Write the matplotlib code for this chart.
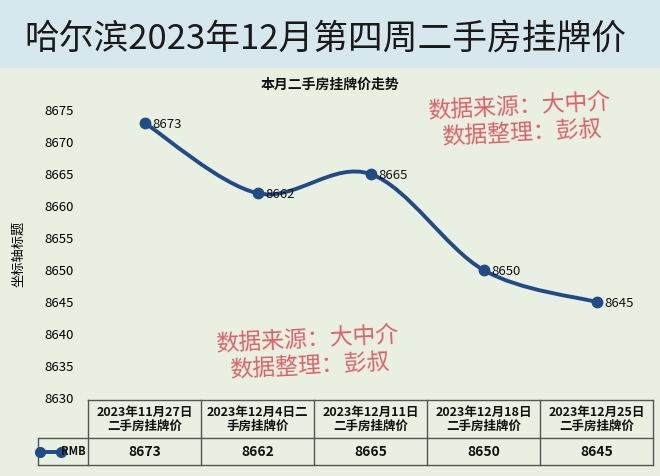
import numpy as np
import matplotlib.pyplot as plt
from matplotlib.path import Path
from matplotlib.patches import PathPatch, Rectangle

plt.rcParams['font.family'] = ['Noto Sans CJK SC', 'DejaVu Sans']

title = '哈尔滨2023年12月第四周二手房挂牌价'
chart_title = '本月二手房挂牌价走势'
y_label = '坐标轴标题'
series_name = 'RMB'
col_labels = ['2023年11月27日\n二手房挂牌价',
              '2023年12月4日二\n手房挂牌价',
              '2023年12月11日\n二手房挂牌价',
              '2023年12月18日\n二手房挂牌价',
              '2023年12月25日\n二手房挂牌价']
prices = [8673, 8662, 8665, 8650, 8645]
y_ticks = [8630, 8635, 8640, 8645, 8650, 8655, 8660, 8665, 8670, 8675]
notes = ['数据来源：大中介', '数据整理：彭叔']

line_color = '#1f4b87'
red = '#d9646a'

fig = plt.figure()
fig.set_size_inches(6.6, 4.76)
fig.patch.set_facecolor('#e9f0e1')
fig.patches.append(Rectangle((0, 1 - 68 / 476), 1, 68 / 476, transform=fig.transFigure,
                             facecolor='#d7e7ee', edgecolor='none', zorder=0))
fig.text(325 / 660, 1 - 39 / 476, title, ha='center', va='center', fontsize=25, color='#1a1a1a')

ax = fig.add_axes([88 / 660, 78 / 476, 565 / 660, 288 / 476])
ax.set_facecolor('none')
for s in ax.spines.values():
    s.set_visible(False)
x = np.arange(len(prices))
ax.set_xlim(-0.5, len(prices) - 0.5)
ax.set_ylim(y_ticks[0], y_ticks[-1])
ax.set_yticks(y_ticks)
ax.set_yticklabels([str(t) for t in y_ticks], fontsize=9.5)
ax.tick_params(axis='y', length=0, pad=10)
ax.set_xticks([])
ax.set_ylabel(y_label, fontsize=9.5, labelpad=14)

# smooth curve (Catmull-Rom style bezier through the points)
pts = np.column_stack([x, prices]).astype(float)
verts = [pts[0]]
codes = [Path.MOVETO]
n = len(pts)
for i in range(n - 1):
    p0 = pts[max(i - 1, 0)]
    p1 = pts[i]
    p2 = pts[i + 1]
    p3 = pts[min(i + 2, n - 1)]
    verts += [p1 + (p2 - p0) / 6.0, p2 - (p3 - p1) / 6.0, p2]
    codes += [Path.CURVE4] * 3
ax.add_patch(PathPatch(Path(verts, codes), fill=False, edgecolor=line_color, linewidth=2.8,
                       capstyle='round', zorder=3))
ax.plot(x, prices, linestyle='none', marker='o', markersize=7.5, color=line_color, zorder=4)
for xi, p in zip(x, prices):
    ax.annotate(str(p), (xi, p), xytext=(6, -1), textcoords='offset points',
                ha='left', va='center', fontsize=9.5, color='#111111', zorder=5)

fig.text(330 / 660, 1 - 85 / 476, chart_title, ha='center', va='center', fontsize=10,
         fontweight='bold', color='#111111')

# red watermark notes
for (cx, cy) in [(519, 107), (307, 340)]:
    fig.text(cx / 660, 1 - cy / 476, notes[0], ha='center', va='center', fontsize=16.5,
             color=red, rotation=3)
    fig.text((cx + 3) / 660, 1 - (cy + 26) / 476, notes[1], ha='center', va='center',
             fontsize=16.5, color=red, rotation=3)

# data table under the axis
tr = ax.get_xaxis_transform()
top, mid, bot = -2 / 288, -40 / 288, -67 / 288
lc = '#555555'
lab_left = -0.5 - 50 / 113
ax.plot([-0.5, len(prices) - 0.5], [top, top], color=lc, lw=1, transform=tr, clip_on=False)
ax.plot([lab_left, len(prices) - 0.5], [mid, mid], color=lc, lw=1, transform=tr, clip_on=False)
ax.plot([lab_left, len(prices) - 0.5], [bot, bot], color=lc, lw=1, transform=tr, clip_on=False)
for k in range(len(prices) + 1):
    ax.plot([k - 0.5, k - 0.5], [top, bot], color=lc, lw=1, transform=tr, clip_on=False)
ax.plot([lab_left, lab_left], [mid, bot], color=lc, lw=1, transform=tr, clip_on=False)
for xi, lab, p in zip(x, col_labels, prices):
    ax.text(xi, (top + mid) / 2, lab, transform=tr, ha='center', va='center', fontsize=9,
            fontweight='bold', linespacing=1.1, color='#111111')
    ax.text(xi, (mid + bot) / 2, str(p), transform=tr, ha='center', va='center', fontsize=10,
            fontweight='bold', color='#111111')
ym = (mid + bot) / 2
ax.plot([lab_left + 0.02, lab_left + 0.2], [ym, ym], color=line_color, lw=2.8, marker='o',
        markersize=7, transform=tr, clip_on=False)
ax.text(-0.5 - 0.02, ym, series_name, transform=tr, ha='right', va='center', fontsize=8,
        fontweight='bold', color='#111111')

plt.savefig('out.png', dpi=100, facecolor=fig.get_facecolor())
plt.close()
